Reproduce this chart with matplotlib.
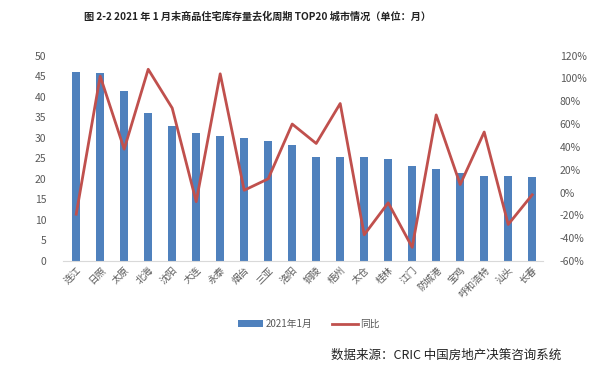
import matplotlib
matplotlib.use("Agg")
import matplotlib.pyplot as plt
from matplotlib.ticker import FuncFormatter

plt.rcParams["font.family"] = ["Noto Sans CJK SC", "DejaVu Sans"]

# 城市与数据
cities = ["连江", "日照", "太原", "北海", "沈阳", "大连", "永泰", "烟台", "三亚", "洛阳",
          "铜陵", "梧州", "太仓", "桂林", "江门", "防城港", "宝鸡", "呼和浩特", "汕头", "长春"]
months = [46.1, 45.7, 41.4, 36.1, 32.9, 31.2, 30.5, 29.9, 29.1, 28.2,
          25.2, 25.2, 25.2, 24.8, 23.1, 22.5, 21.3, 20.7, 20.7, 20.5]
yoy = [-19, 102, 38, 108, 74, -8, 104, 2, 12, 60,
       43, 78, -37, -9, -48, 68, 7, 53, -28, -2]

BAR_C = "#4F81BD"
LINE_C = "#C0504D"
TXT_C = "#595959"

fig = plt.figure(figsize=(6, 3.78), dpi=100)
ax = fig.add_axes([0.105, 0.3095, 0.8, 0.5435])
x = list(range(len(cities)))

ax.bar(x, months, width=0.34, color=BAR_C, label="2021年1月", zorder=2)
ax.set_ylim(0, 50)
ax.set_yticks(range(0, 51, 5))
ax.set_xlim(-0.55, 19.45)
ax.set_xticks(x)
ax.set_xticklabels(cities, rotation=45, ha="right", rotation_mode="anchor",
                   fontsize=7, color=TXT_C)
ax.tick_params(axis="y", labelsize=7.5, colors=TXT_C, length=0, pad=12)
ax.tick_params(axis="x", length=0, pad=3)
for s in ["top", "right", "left"]:
    ax.spines[s].set_visible(False)
ax.spines["bottom"].set_color("#D9D9D9")

ax2 = ax.twinx()
ax2.plot(x, yoy, color=LINE_C, lw=2, label="同比", zorder=3)
ax2.set_ylim(-60, 120)
ax2.set_yticks(range(-60, 121, 20))
ax2.yaxis.set_major_formatter(FuncFormatter(lambda v, p: f"{int(v)}%"))
ax2.tick_params(axis="y", labelsize=7.5, colors=TXT_C, length=0, pad=12)
for s in ax2.spines.values():
    s.set_visible(False)

fig.text(0.43, 0.955, "图 2-2 2021 年 1 月末商品住宅库存量去化周期 TOP20 城市情况（单位：月）",
         ha="center", va="center", fontsize=7.3, fontweight="bold", color="#222222")

h1, l1 = ax.get_legend_handles_labels()
h2, l2 = ax2.get_legend_handles_labels()
fig.legend(h1 + h2, l1 + l2, loc="center", bbox_to_anchor=(0.515, 0.143), ncol=2,
           frameon=False, fontsize=7, labelcolor=TXT_C, handlelength=2.6,
           columnspacing=2.0, handletextpad=0.3)

fig.text(0.935, 0.06, "数据来源：CRIC 中国房地产决策咨询系统", ha="right", va="center",
         fontsize=9, color="#222222")

fig.savefig("out.png", dpi=100)
